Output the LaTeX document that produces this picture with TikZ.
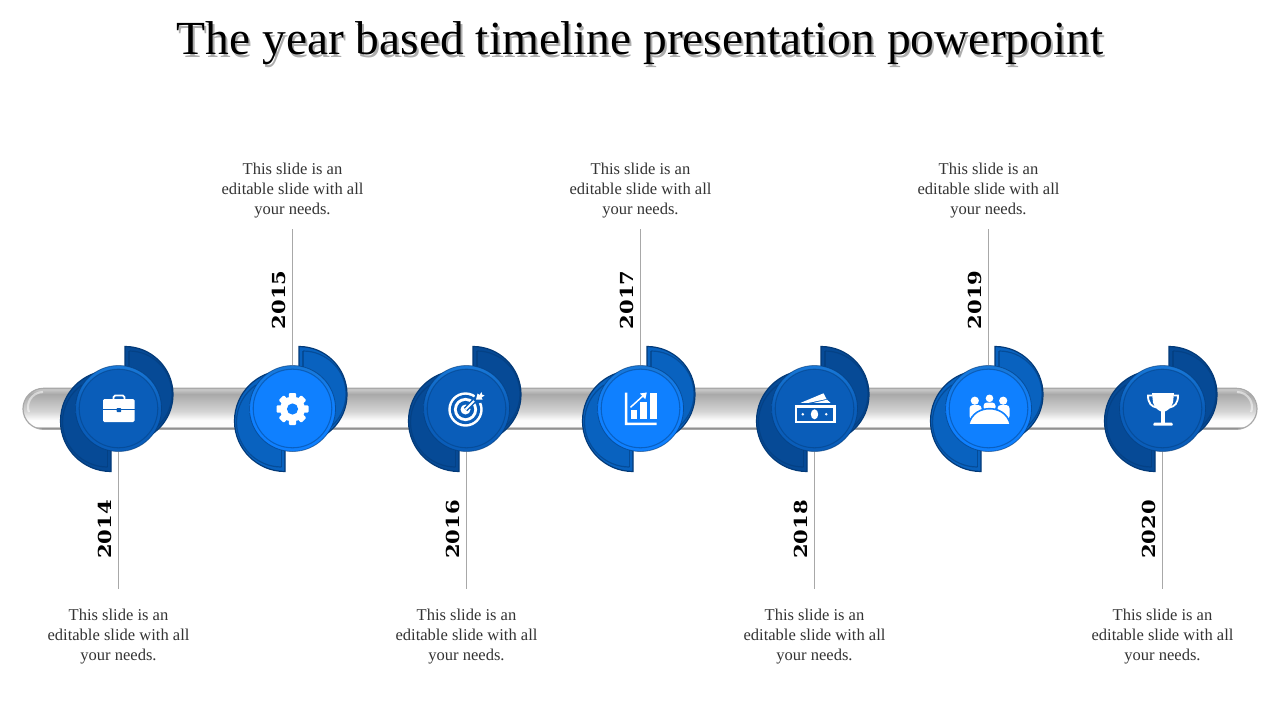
\documentclass[tikz,border=0pt]{standalone}
\usepackage{fontspec}
\setmainfont{Liberation Serif}
\newfontfamily\yearfont[BoldFont={DejaVu Serif Bold}]{DejaVu Serif}
\definecolor{dkmain}{HTML}{0A5DB9}
\definecolor{dkcres}{HTML}{064A96}
\definecolor{ltmain}{HTML}{0F80FF}
\definecolor{ltcres}{HTML}{0962BF}
\definecolor{edgeblue}{HTML}{033A78}
\definecolor{rimtop}{HTML}{1878D8}
\definecolor{leadgray}{HTML}{A8A8A8}
\definecolor{barA}{HTML}{858585}
\definecolor{barB}{HTML}{FDFDFD}
\definecolor{barC}{HTML}{D4D4D4}
\definecolor{barD}{HTML}{A9A9A9}
\definecolor{barE}{HTML}{C4C4C4}
\pgfdeclareverticalshading{barshade}{100bp}{color(0bp)=(barA);color(25bp)=(barA);color(27bp)=(barA);color(28.5bp)=(barB);color(36bp)=(barB);color(47bp)=(barC);color(68bp)=(barD);color(73bp)=(barE);color(75bp)=(barE);color(100bp)=(barE)}
\tikzset{
  barbox/.style={draw=barD,line width=.9pt,rounded corners=15.4pt,shading=barshade,minimum width=925.5pt,minimum height=30.75pt,inner sep=0pt},
  barbevel/.style={draw=white,draw opacity=.5,line width=1.6pt},
  hub/.style={circle,minimum size=64.5pt,inner sep=0pt,draw=edgeblue,draw opacity=.6,line width=.6pt,top color=rimtop},
  leadline/.style={draw=leadgray,line width=.75pt},
  bodytext/.style={align=center,font=\fontsize{12.4}{15}\selectfont,text=black!80,inner sep=0pt},
  yeartext/.style={rotate=90,font=\yearfont\bfseries\fontsize{15.8}{16}\selectfont,inner sep=0pt},
  titletext/.style={font=\fontsize{35.6}{40}\selectfont,inner sep=0pt},
  cresedge/.style={draw=edgeblue,line width=.9pt},
  creslip/.style={draw=edgeblue,draw opacity=.55,line width=.9pt}
}
\newcommand{\icoa}[1]{% briefcase
  \fill[white,rounded corners=1pt] (-15.5,-9.5) rectangle (16,13.5);
  \draw[white,line width=1.4pt,rounded corners=1.2pt] (-5,-9) -- (-5,-13) -- (6,-13) -- (6,-9);
  \fill[#1] (-15.5,0.3) rectangle (16,1.8);
  \fill[#1,rounded corners=.5pt] (-1.8,-.5) rectangle (2.6,3.6);
}
\newcommand{\icob}[1]{% gear
  \foreach \a in {0,45,...,315}{
    \fill[white,shift={(0,0.5)},rotate=\a,rounded corners=.8pt] (-3.6,-16) rectangle (3.6,-9);
  }
  \fill[white] (0,0.5) circle (12.5);
  \fill[#1] (0,0.5) circle (5.6);
}
\newcommand{\icoc}[1]{% target
  \fill[white] (-1,1) circle (17.2);
  \fill[#1] (-1,1) circle (14.6);
  \fill[white] (-1,1) circle (11.6);
  \fill[#1] (-1,1) circle (8.6);
  \fill[white] (-1,1) circle (5);
  \draw[#1,line width=3.6pt] (-1,1) -- (13,-13);
  \draw[white,line width=1.5pt] (-1,1) -- (12,-12);
  \fill[#1] (7,-8) -- (10,-18) -- (20,-16) -- (19,-7) -- (11,-5) -- cycle;
  \fill[white] (9.5,-9) -- (11,-15) -- (13,-13.5) -- (15,-16.5) -- (15.5,-14) -- (18,-13) -- (15,-11) -- (16,-9) -- cycle;
}
\newcommand{\icod}[1]{% chart
  \fill[white] (-15.7,-15.8) rectangle (-13.2,16.5) (-15.7,14) rectangle (16,16.5);
  \fill[white] (-10,1.5) rectangle (-4,10.8);
  \fill[white] (-0.7,-6.8) rectangle (6,10.8);
  \fill[white] (9,-15.8) rectangle (16,10.8);
  \draw[white,line width=1.1pt] (-10,-1.2) -- (4,-14);
  \fill[white] (6.3,-16) -- (-.5,-15) -- (4.8,-9.2) -- cycle;
}
\newcommand{\icoe}[1]{% banknotes
  \fill[white] (-20,-3.5) rectangle (21,14.8);
  \fill[#1] (-17.5,-1) rectangle (18.5,12.3);
  \fill[white] (0,5.8) ellipse (3.7 and 5);
  \fill[white] (-11.7,5.8) circle (1.4);
  \fill[white] (11.7,5.8) circle (1.4);
  \fill[white] (-14,-5.6) -- (9,-15.2) -- (12,-9.5) -- (-6,-5.6) -- cycle;
  \fill[white] (-1,-5.6) -- (12.6,-8.8) -- (16,-5.6) -- cycle;
}
\newcommand{\icof}[1]{% people round a table
  \fill[white] (1,-10.2) circle (3.8);
  \fill[white] (-13.7,-7.8) circle (4.1);
  \fill[white] (14.7,-7.8) circle (4.1);
  \fill[white,rounded corners=2.5pt] (-5,-6) rectangle (7,2);
  \fill[white,rounded corners=2.5pt] (-19,-3.5) rectangle (-7,11);
  \fill[white,rounded corners=2.5pt] (9,-3.5) rectangle (21,11);
  \fill[white,draw=#1,line width=1.2pt] (-20,16.4) .. controls (-17,4) and (-7,0.2) .. (1,0.2) .. controls (9,0.2) and (19,4) .. (22,16.4) -- cycle;
}
\newcommand{\icog}[1]{% trophy
  \draw[white,line width=1.4pt] (-10,-13) -- (-14.5,-13) .. controls (-14.5,-5) and (-11,-2) .. (-6,-1);
  \draw[white,line width=1.4pt] (11,-13) -- (15.5,-13) .. controls (15.5,-5) and (12,-2) .. (7,-1);
  \fill[white] (-10.5,-15.5) -- (11.5,-15.5) -- (10.5,-6) .. controls (9,-.5) and (5,2) .. (2.4,3) -- (2.4,14.3) -- (-1.4,14.3) -- (-1.4,3) .. controls (-4,2) and (-8,-.5) .. (-9.5,-6) -- cycle;
  \fill[white,rounded corners=.6pt] (-8.5,14) -- (9.5,14) -- (10.5,17) -- (-9.5,17) -- cycle;
}
\begin{document}
\begin{tikzpicture}[x=.75pt,y=-.75pt]
\useasboundingbox (0,0) rectangle (1280,720);
\fill[white] (0,0) rectangle (1280,720);
% title with its soft shadow
\node[titletext,text=black!32] (titleshadow) at (642,46) {The year based timeline presentation powerpoint};
\node[titletext] (title) at (640,43.5) {The year based timeline presentation powerpoint};
% bar
\node[barbox] (bar) at (640,408.8) {};
\draw[barbevel] (43,392) arc[start angle=-90,end angle=-200,radius=15];
\draw[barbevel] (1237,392) arc[start angle=-90,end angle=20,radius=15];
% units
\foreach \i/\cx/\m/\s/\yr/\ya/\ey/\ty/\yy/\ico in {
  1/118.5/dkmain/dkcres/2014/south/589/636.5/529.5/\icoa,
  2/292.5/ltmain/ltcres/2015/north/229/190.5/300/\icob,
  3/466.5/dkmain/dkcres/2016/south/589/636.5/529.5/\icoc,
  4/640.5/ltmain/ltcres/2017/north/229/190.5/300/\icod,
  5/814.5/dkmain/dkcres/2018/south/589/636.5/529.5/\icoe,
  6/988.5/ltmain/ltcres/2019/north/229/190.5/300/\icof,
  7/1162.5/dkmain/dkcres/2020/south/589/636.5/529.5/\icog}{
  % right half disc
  \fill[\s,cresedge] (\cx+6.5,346.5) arc[start angle=-90,end angle=90,radius=48] -- cycle;
  \draw[creslip] (\cx+10.5,351) -- (\cx+10.5,380);
  \draw[creslip] (\cx+10.5,351) arc[start angle=-90,end angle=55,radius=43];
  % left half disc
  \fill[\s,cresedge] (\cx-7.5,471.5) arc[start angle=90,end angle=270,radius=50.5] -- cycle;
  \draw[creslip] (\cx-11,467) -- (\cx-11,440);
  \draw[creslip] (\cx-11,467) arc[start angle=90,end angle=235,radius=45];
  % hub
  \node[hub,bottom color=\m,middle color=\m] (c\i) at (\cx,408.5) {};
  \draw[edgeblue,draw opacity=.45,line width=.8pt,fill=\m] (c\i.center) circle (39.3);
  \draw[leadline] (c\i.\ya) -- (\cx,\ey) coordinate (e\i);
  \begin{scope}[shift={(c\i.center)}]
    \ico{\m}
  \end{scope}
  \node[yeartext] (y\i) at (\cx-14,\yy) {\scalebox{1}[.85]{\yr}};
  \node[bodytext] (t\i) at (\cx,\ty) {This slide is an\\editable slide with all\\your needs.};
}
\end{tikzpicture}
\end{document}
